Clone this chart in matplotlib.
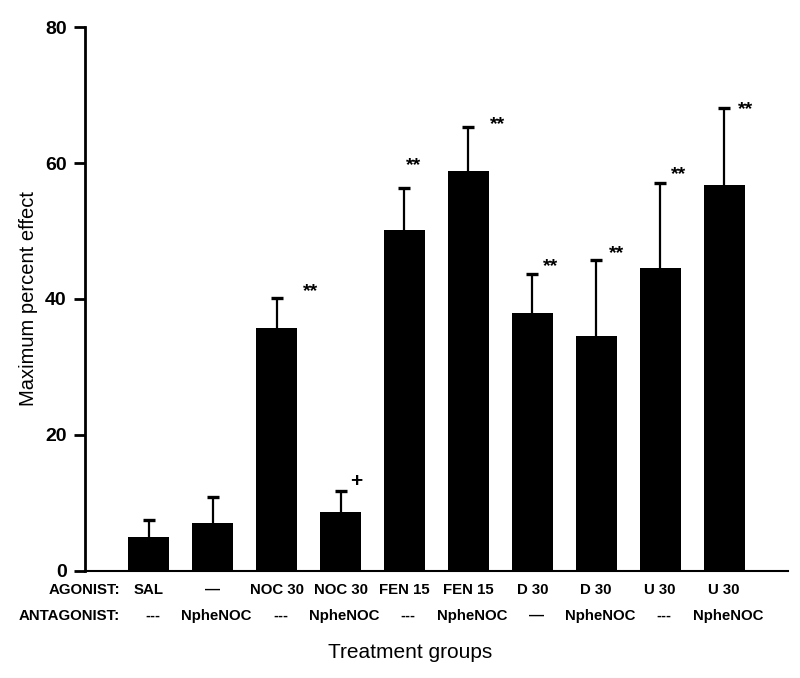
import numpy as np
import matplotlib
matplotlib.use("Agg")
import matplotlib.pyplot as plt

plt.rcParams['font.family'] = ['Liberation Sans', 'DejaVu Sans']

# data
agonist = ["SAL", "\u2014", "NOC 30", "NOC 30", "FEN 15", "FEN 15", "D 30", "D 30", "U 30", "U 30"]
antagonist = ["---", "NpheNOC", "---", "NpheNOC", "---", "NpheNOC", "\u2014", "NpheNOC", "---", "NpheNOC"]
means = [5.0, 7.1, 35.7, 8.7, 50.2, 58.8, 38.0, 34.6, 44.6, 56.8]
err_top = [7.5, 10.8, 40.2, 11.7, 56.3, 65.3, 43.7, 45.8, 57.0, 68.1]
marks = ["", "", "**", "+", "**", "**", "**", "**", "**", "**"]
mark_dx = [0, 0, 0.53, 0.25, 0.15, 0.46, 0.29, 0.32, 0.29, 0.34]
mark_y = [0, 0, 41.1, 13.1, 59.7, 65.6, 44.7, 46.7, 58.3, 67.8]

x = np.arange(1, len(means) + 1)
upper = np.array(err_top) - np.array(means)

fig = plt.figure(figsize=(8, 6.78), dpi=100)
ax = fig.add_axes([0.106, 0.158, 0.879, 0.802])

ax.bar(x, means, width=0.64, color='black', zorder=2)
eb = ax.errorbar(x, means, yerr=[np.zeros(len(means)), upper], fmt='none',
                 ecolor='black', elinewidth=1.6, capsize=4.3, capthick=2.4, zorder=1)
# only the upper caps are shown
eb[1][0].set_visible(False)

for xi, m, dx, my in zip(x, marks, mark_dx, mark_y):
    if m:
        ax.text(xi + dx, my, m, ha='center', va='center',
                fontsize=15 if m == "+" else 14, fontweight='bold')

ax.set_xlim(0, 11)
ax.set_ylim(0, 80)
ax.set_yticks([0, 20, 40, 60, 80])
ax.set_xticks([])
ax.tick_params(axis='y', direction='out', length=8, width=2, labelsize=14, pad=5)
for lab in ax.get_yticklabels():
    lab.set_fontweight('bold')
ax.spines['top'].set_visible(False)
ax.spines['right'].set_visible(False)
ax.spines['left'].set_linewidth(2)
ax.spines['bottom'].set_linewidth(1.5)
ax.set_ylabel("Maximum percent effect", fontsize=14.5, labelpad=5)

# group labels below the axis
tr = ax.get_xaxis_transform()
ax.text(0.55, -0.035, "AGONIST:", transform=tr, ha='right', va='center',
        fontsize=10.8, fontweight='bold')
ax.text(0.55, -0.083, "ANTAGONIST:", transform=tr, ha='right', va='center',
        fontsize=10.8, fontweight='bold')
for xi, a, b in zip(x, agonist, antagonist):
    ax.text(xi, -0.035, a, transform=tr, ha='center', va='center',
            fontsize=10.8, fontweight='bold')
    ax.text(xi + 0.06, -0.083, b, transform=tr, ha='center', va='center',
            fontsize=10.8, fontweight='bold')

fig.text(0.513, 0.037, "Treatment groups", ha='center', va='center', fontsize=15)

fig.savefig("out.png", dpi=100)
